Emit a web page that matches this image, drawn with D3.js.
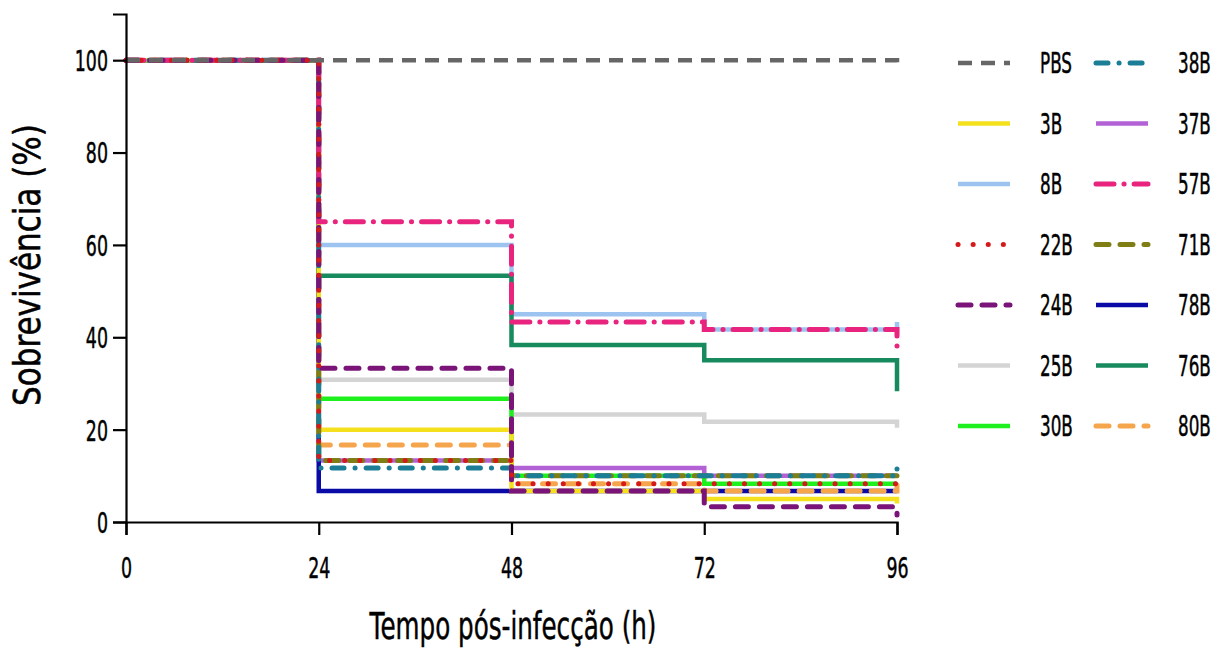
<!DOCTYPE html>
<html>
<head>
<meta charset="utf-8">
<script src="https://cdn.jsdelivr.net/npm/d3@7"></script>
<style>
  html, body { margin: 0; padding: 0; background: #fff; }
  svg { display: block; }
  text { font-family: "DejaVu Sans", sans-serif; fill: #000; stroke: #000; stroke-width: 0.5px; }
</style>
</head>
<body>
<svg id="chart" width="1227" height="648"></svg>
<script>
// ---- data ----
const times = [0, 24, 48, 72, 96];
const xTicks = [0, 24, 48, 72, 96];
const yTicks = [0, 20, 40, 60, 80, 100];
const seriesNames = ["PBS", "3B", "8B", "22B", "24B", "25B", "30B", "38B", "37B", "57B", "71B", "78B", "76B", "80B"];
const PBS  = [100, 100, 100, 100, 98.5];
const s3B  = [100, 20, 6.7, 5, 4];
const s8B  = [100, 60, 45, 41.7, 43.3];
const s22B = [100, 13.3, 8.3, 8.3, 9.8];
const s24B = [100, 33.3, 6.7, 3.3, 1.5];
const s25B = [100, 30.8, 23.3, 21.7, 20.4];
const s30B = [100, 26.7, 10, 8.3, 8.3];
const s38B = [100, 11.7, 10, 10, 11.5];
const s37B = [100, 13.3, 11.7, 10, 10];
const s57B = [100, 65, 43.3, 41.7, 36.7];
const s71B = [100, 13.3, 10, 10, 10];
const s78B = [100, 6.7, 6.7, 6.7, 6.7];
const s76B = [100, 53.3, 38.3, 35, 28.3];
const s80B = [100, 16.7, 8.3, 6.7, 8];
const seriesValues = [PBS, s3B, s8B, s22B, s24B, s25B, s30B, s38B, s37B, s57B, s71B, s78B, s76B, s80B];

// ---- styles ----
const styles = {
  "PBS": { color: "#666666", dash: "14,9", cap: "butt", w: 4.5 },
  "3B":  { color: "#F4E01C", dash: null, cap: "butt", w: 4.5 },
  "8B":  { color: "#9DC3F0", dash: null, cap: "butt", w: 4.5 },
  "22B": { color: "#D41A1A", dash: "0.1,15", cap: "round", w: 5 },
  "24B": { color: "#7A1479", dash: "13,11", cap: "round", w: 5 },
  "25B": { color: "#D4D4D4", dash: null, cap: "butt", w: 4.5 },
  "30B": { color: "#1EF01E", dash: null, cap: "butt", w: 4.5 },
  "38B": { color: "#1B7E96", dash: "12,11,0.1,11", cap: "round", w: 5 },
  "37B": { color: "#B262D4", dash: null, cap: "butt", w: 4.5 },
  "57B": { color: "#E8247E", dash: "18,10,0.1,10", cap: "round", w: 5 },
  "71B": { color: "#7E7E14", dash: "13,11", cap: "round", w: 5 },
  "78B": { color: "#0A0AA6", dash: null, cap: "butt", w: 4.5 },
  "76B": { color: "#188B5E", dash: null, cap: "butt", w: 4.5 },
  "80B": { color: "#F5A54C", dash: "13,11", cap: "round", w: 5 }
};
// drawing order (bottom to top)
const drawNames = ["8B", "25B", "30B", "37B", "78B", "76B", "3B", "80B", "71B", "38B", "57B", "24B", "22B", "PBS"];

const svg = d3.select("#chart");
const x = d3.scaleLinear().domain([0, 96]).range([126, 897]);
const y = d3.scaleLinear().domain([0, 110]).range([522, 14]);
const SX = 0.6; // horizontal condensation of text

const series = seriesNames.map((n, i) => ({ name: n, values: seriesValues[i], st: styles[n] }));
const byName = Object.fromEntries(series.map(s => [s.name, s]));
const drawOrder = drawNames.map(n => byName[n]);

const line = d3.line().x(d => x(d[0])).y(d => y(d[1])).curve(d3.curveStepAfter);

svg.append("g").selectAll("path").data(drawOrder).join("path")
  .attr("d", s => line(times.map((t, i) => [t, s.values[i]])))
  .attr("fill", "none")
  .attr("stroke", s => s.st.color)
  .attr("stroke-width", s => s.st.w)
  .attr("stroke-dasharray", s => s.st.dash)
  .attr("stroke-linecap", s => s.st.cap)
  .attr("stroke-linejoin", "miter");

// axes
const xAxis = svg.append("g").attr("transform", `translate(0,${y(0)})`)
  .call(d3.axisBottom(x).tickValues(xTicks).tickSize(13).tickPadding(22));
const yAxis = svg.append("g").attr("transform", `translate(${x(0)},0)`)
  .call(d3.axisLeft(y).tickValues(yTicks).tickSize(13).tickPadding(5));
[xAxis, yAxis].forEach(g => {
  g.select(".domain").attr("stroke", "#000").attr("stroke-width", 2.2);
  g.selectAll(".tick line").attr("stroke", "#000").attr("stroke-width", 2.2);
  g.selectAll(".tick text").attr("font-size", 29).attr("fill", "#000")
    .style("font-family", '"DejaVu Sans", sans-serif');
});
xAxis.selectAll(".tick text").attr("transform", `scale(${SX},1)`);
yAxis.selectAll(".tick text")
  .attr("x", -18 / SX).attr("dy", "0.36em")
  .attr("transform", `scale(${SX},1)`);

// axis titles (condensed to the reference width)
function fitText(sel, width) {
  const len = sel.node().getComputedTextLength();
  return width / len;
}
const xt = svg.append("text").attr("text-anchor", "middle").attr("font-size", 37)
  .text("Tempo pós-infecção (h)");
xt.attr("transform", `translate(513,639) scale(${fitText(xt, 287)},1)`);
const yt = svg.append("text").attr("text-anchor", "middle").attr("font-size", 37)
  .text("Sobrevivência (%)");
yt.attr("transform", `translate(40,265) rotate(-90) scale(${fitText(yt, 282)},1)`);

// legend
const legend = svg.append("g");
const colX = [958, 1096];
const labX = [1040, 1178];
const perCol = 7;
series.forEach((s, i) => {
  const c = Math.floor(i / perCol), r = i % perCol;
  const yy = 63 + r * 60.5;
  legend.append("line").attr("x1", colX[c]).attr("x2", colX[c] + 52)
    .attr("y1", yy).attr("y2", yy)
    .attr("stroke", s.st.color).attr("stroke-width", s.st.w)
    .attr("stroke-dasharray", s.st.dash).attr("stroke-linecap", s.st.cap);
  legend.append("text").attr("transform", `translate(${labX[c]},${yy}) scale(${SX},1)`)
    .attr("dy", "0.36em").attr("font-size", 28).text(s.name);
});
</script>
</body>
</html>
